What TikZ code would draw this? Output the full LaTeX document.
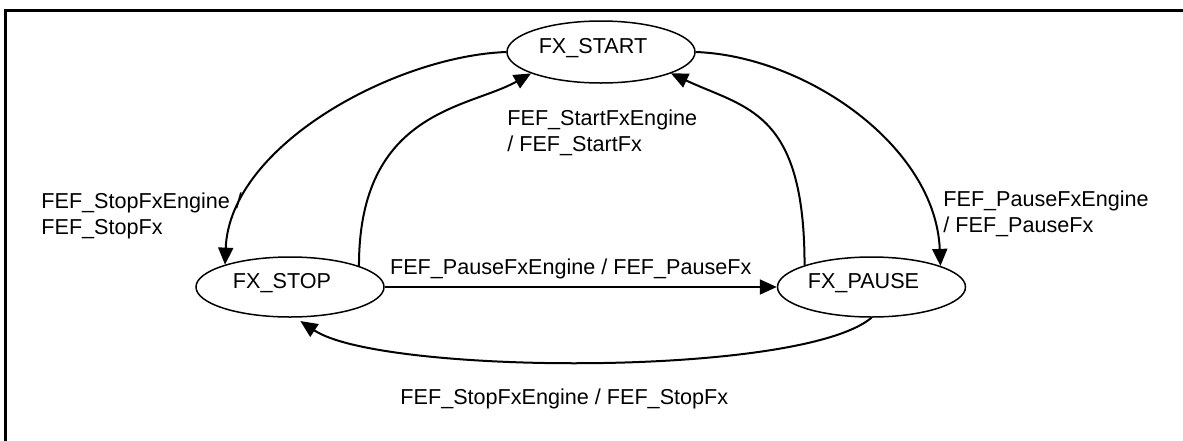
\documentclass[tikz,border=0pt]{standalone}
\usepackage{fontspec}
\setmainfont{Liberation Sans}
\usetikzlibrary{positioning,arrows.meta,shapes.geometric}
\tikzset{
  state/.style={ellipse, draw, line width=0.75pt, minimum width=94pt, minimum height=30pt, inner sep=0pt,
                text height=8pt, text depth=6.5pt, execute at end node={\hspace*{8pt}}},
  trans/.style={-{Triangle[length=8.5pt,width=7.5pt]}, line width=1pt},
  lbl/.style={inner sep=0pt, align=left},
}

\begin{document}
\begin{tikzpicture}[x=0.5pt, y=-0.5pt, font=\fontsize{10.8}{12.8}\selectfont]
\useasboundingbox (0,0) rectangle (1183,440);
\clip (0,0) rectangle (1183,440);
\draw[line width=1.5pt] (5,10) rectangle (1200,460);

%Nodes
\node[state, minimum height=31pt] (fxstart) at (601,52) {FX\_START};
\node[state] (fxstop) at (290,287) {FX\_STOP};
\node[state] (fxpause) [right=196pt of fxstop] {FX\_PAUSE};

%Labels
\node[lbl, anchor=west] (lblstart) at (507,133) {FEF\_StartFxEngine\\/ FEF\_StartFx};
\node[lbl, anchor=west] (lblstop) at (41,216) {FEF\_StopFxEngine /\\FEF\_StopFx};
\node[lbl, anchor=west] (lblpause) at (943,214) {FEF\_PauseFxEngine\\/ FEF\_PauseFx};

%Lines
\draw[trans] (fxstart.west) .. controls +(-110,4) and +(5,-120) .. (fxstop.161);
\draw[trans] (fxstart.east) .. controls +(110,4) and +(-5,-120) .. (fxpause.17);
\draw[trans] (fxstop.17) .. controls +(0,-156) and +(-62,35) .. (fxstart.197);
\draw[trans] (fxpause.162) .. controls +(0,-155) and +(75,35) .. (fxstart.-17);
\draw[trans] (fxstop.east) -- (fxpause.west) node[midway, above, xshift=-5pt] {FEF\_PauseFxEngine / FEF\_PauseFx};
\draw[trans, shorten >=3pt] (fxpause.south) .. controls +(-72,60) and +(85,57) .. (fxstop.-80) node[midway, below=10pt, xshift=-12pt] {FEF\_StopFxEngine / FEF\_StopFx};
\end{tikzpicture}
\end{document}
